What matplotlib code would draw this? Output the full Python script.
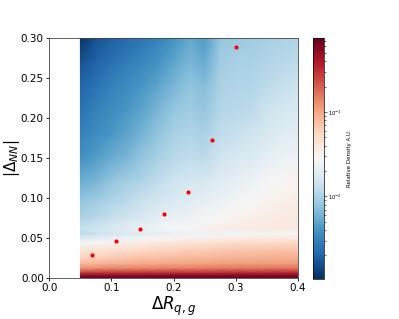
import numpy as np
import matplotlib
matplotlib.use("Agg")
import matplotlib.pyplot as plt
from matplotlib.colors import LogNorm

# grid nodes of the density map
dr_nodes = [0.05, 0.075, 0.1, 0.125, 0.15, 0.175, 0.2, 0.225, 0.25, 0.275, 0.3, 0.325, 0.35, 0.375, 0.4]
dnn_nodes = [0.0, 0.003, 0.007, 0.012, 0.018, 0.026, 0.035, 0.044, 0.05, 0.055,
             0.062, 0.075, 0.095, 0.12, 0.15, 0.18, 0.21, 0.24, 0.27, 0.3]

# log10 of relative density, one row per dnn node (bottom -> top)
log_density = [
    [-0.15, -0.15, -0.15, -0.15, -0.15, -0.15, -0.15, -0.15, -0.15, -0.15, -0.15, -0.15, -0.15, -0.15, -0.15],
    [-0.28, -0.27, -0.27, -0.26, -0.26, -0.25, -0.25, -0.25, -0.24, -0.25, -0.24, -0.24, -0.25, -0.24, -0.24],
    [-0.60, -0.58, -0.57, -0.56, -0.55, -0.55, -0.54, -0.54, -0.53, -0.53, -0.52, -0.52, -0.52, -0.51, -0.50],
    [-0.90, -0.88, -0.86, -0.85, -0.84, -0.83, -0.82, -0.82, -0.81, -0.80, -0.80, -0.79, -0.79, -0.78, -0.78],
    [-1.10, -1.08, -1.06, -1.04, -1.02, -1.01, -1.00, -0.99, -0.98, -0.97, -0.96, -0.96, -0.95, -0.95, -0.94],
    [-1.25, -1.22, -1.20, -1.17, -1.15, -1.13, -1.12, -1.10, -1.10, -1.08, -1.07, -1.06, -1.06, -1.05, -1.05],
    [-1.38, -1.35, -1.32, -1.30, -1.27, -1.25, -1.23, -1.21, -1.20, -1.18, -1.17, -1.16, -1.15, -1.15, -1.14],
    [-1.60, -1.55, -1.50, -1.46, -1.43, -1.40, -1.38, -1.36, -1.34, -1.32, -1.30, -1.29, -1.28, -1.27, -1.26],
    [-1.78, -1.72, -1.66, -1.62, -1.58, -1.55, -1.52, -1.50, -1.48, -1.47, -1.45, -1.44, -1.43, -1.42, -1.42],
    [-1.92, -1.86, -1.80, -1.76, -1.72, -1.69, -1.66, -1.64, -1.62, -1.61, -1.60, -1.59, -1.58, -1.57, -1.57],
    [-1.88, -1.82, -1.76, -1.70, -1.65, -1.60, -1.56, -1.52, -1.49, -1.46, -1.44, -1.42, -1.41, -1.40, -1.40],
    [-2.00, -1.95, -1.88, -1.82, -1.76, -1.70, -1.66, -1.62, -1.58, -1.54, -1.50, -1.47, -1.45, -1.43, -1.42],
    [-2.10, -2.05, -1.98, -1.92, -1.86, -1.80, -1.76, -1.72, -1.68, -1.63, -1.58, -1.54, -1.50, -1.47, -1.45],
    [-2.25, -2.20, -2.10, -2.04, -1.98, -1.90, -1.84, -1.80, -1.78, -1.72, -1.68, -1.62, -1.58, -1.54, -1.50],
    [-2.42, -2.35, -2.26, -2.20, -2.10, -2.02, -1.95, -1.90, -1.92, -1.82, -1.78, -1.76, -1.68, -1.64, -1.62],
    [-2.52, -2.45, -2.38, -2.30, -2.22, -2.12, -2.02, -1.98, -2.02, -1.90, -1.88, -1.84, -1.78, -1.72, -1.70],
    [-2.60, -2.52, -2.45, -2.38, -2.30, -2.20, -2.10, -2.06, -2.10, -1.96, -1.95, -1.92, -1.85, -1.80, -1.78],
    [-2.68, -2.60, -2.52, -2.45, -2.38, -2.30, -2.20, -2.12, -2.16, -2.00, -1.98, -1.97, -1.92, -1.88, -1.85],
    [-2.80, -2.70, -2.62, -2.55, -2.48, -2.40, -2.30, -2.20, -2.26, -2.05, -2.02, -2.02, -1.98, -1.95, -1.92],
    [-2.95, -2.80, -2.72, -2.65, -2.58, -2.50, -2.40, -2.28, -2.36, -2.10, -2.08, -2.06, -2.03, -2.00, -1.98],
]

# red markers
marker_dr = [0.068, 0.107, 0.146, 0.184, 0.223, 0.262, 0.301]
marker_dnn = [0.028, 0.046, 0.061, 0.080, 0.108, 0.172, 0.289]

fig = plt.figure(figsize=(3.99, 3.19), dpi=100)
ax = fig.add_axes([0.1236, 0.1295, 0.6233, 0.7505])
cax = fig.add_axes([0.7837, 0.1254, 0.0291, 0.7545])

density = 10.0 ** np.array(log_density)
norm = LogNorm(vmin=1.05e-3, vmax=0.75)
mesh = ax.pcolormesh(dr_nodes, dnn_nodes, density, shading='gouraud', cmap='RdBu_r', norm=norm)
ax.scatter(marker_dr, marker_dnn, s=9, color='red', zorder=3, linewidths=0)

ax.set_xlim(0.0, 0.4)
ax.set_ylim(0.0, 0.3)
ax.set_xticks([0.0, 0.1, 0.2, 0.3, 0.4])
ax.set_yticks([0.0, 0.05, 0.10, 0.15, 0.20, 0.25, 0.30])
ax.set_yticklabels(['0.00', '0.05', '0.10', '0.15', '0.20', '0.25', '0.30'])
ax.tick_params(labelsize=7.5, length=2.5, width=0.6, pad=1.5)
for s in ax.spines.values():
    s.set_linewidth(0.6)
    s.set_color('#444444')
ax.set_xlabel(r'$\Delta R_{q,g}$', fontsize=12, labelpad=1)
ax.set_ylabel(r'$|\Delta_{NN}|$', fontsize=11)
ax.yaxis.set_label_coords(-0.108, 0.5)

cb = fig.colorbar(mesh, cax=cax)
cb.outline.set_linewidth(0.5)
cb.ax.tick_params(which='both', labelsize=3.8, width=0.4, pad=1)
cb.ax.tick_params(which='major', length=2)
cb.ax.tick_params(which='minor', length=1.2)
cb.set_label('Relative Density A.U.', fontsize=4, labelpad=3)

fig.savefig('out.png', dpi=100)
